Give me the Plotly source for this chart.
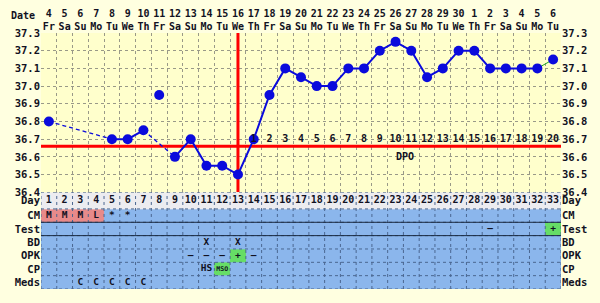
import plotly.graph_objects as go

# ---------------- data ----------------
days = list(range(1, 34))
dates = list(range(4, 31)) + [1, 2, 3, 4, 5, 6]
weekdays_cycle = ["Fr", "Sa", "Su", "Mo", "Tu", "We", "Th"]
weekdays = [weekdays_cycle[i % 7] for i in range(33)]

temps = [36.8, None, None, None, 36.7, 36.7, 36.75, None, 36.6, 36.7,
         36.55, 36.55, 36.5, 36.7, 36.95, 37.1, 37.05, 37.0, 37.0, 37.1,
         37.1, 37.2, 37.25, 37.2, 37.05, 37.1, 37.2, 37.2, 37.1, 37.1,
         37.1, 37.1, 37.15]
discarded_days = [8]
discarded_temps = [36.95]
pending_day = 33          # last point joined with green line

coverline = 36.66
ovulation_day = 13
dpo_numbers = list(range(1, 21))   # days 14..33
temp_ticks = [36.4, 36.5, 36.6, 36.7, 36.8, 36.9, 37.0, 37.1, 37.2, 37.3]

row_names = ["Meds", "CP", "OPK", "BD", "Test", "CM", "Day"]
cm = {1: "M", 2: "M", 3: "M", 4: "L", 5: "*", 6: "*"}
test = {29: "–", 33: "+"}
bd = {11: "X", 13: "X"}
opk = {10: "–", 11: "–", 12: "–", 13: "+", 14: "–"}
cp = {11: "HS", 12: "MSO"}
meds = {3: "C", 4: "C", 5: "C", 6: "C", 7: "C"}
pink_cells = {"CM": [1, 2, 3, 4]}
green_cells = {"Test": [33], "OPK": [13], "CP": [12]}

# ---------------- styling ----------------
FONT = "DejaVu Sans Mono"
BLUE = "#0A0ADC"
PAPER = "#FFFFE0"
PLOT = "#FFFFCC"
TABLE_BLUE = "#8BB6EC"
PINK = "#E88A8A"
GREEN = "#66DD66"
DAYROW = "#ECECF0"
TXT = "#111122"

# row geometry in table-axis units (Day row a bit taller)
row_edges = [0, 1, 2, 3, 4, 5, 6, 7.25]
row_centers = [(row_edges[i] + row_edges[i + 1]) / 2 for i in range(7)]
col_edges = [d - 0.5 for d in days] + [days[-1] + 0.5]

fig = go.Figure()

# ---------- table heatmap ----------
color_index = {"blue": 0, "pink": 1, "green": 2, "day": 3}
z = []
for r in row_names:
    row = []
    for d in days:
        if r == "Day":
            row.append(color_index["day"])
        elif d in pink_cells.get(r, []):
            row.append(color_index["pink"])
        elif d in green_cells.get(r, []):
            row.append(color_index["green"])
        else:
            row.append(color_index["blue"])
    z.append(row)
colorscale = [[0, TABLE_BLUE], [0.25, TABLE_BLUE], [0.25, PINK], [0.5, PINK],
              [0.5, GREEN], [0.75, GREEN], [0.75, DAYROW], [1, DAYROW]]
fig.add_trace(go.Heatmap(x=col_edges, y=row_edges, z=z, zmin=-0.5, zmax=3.5,
                         colorscale=colorscale, showscale=False, hoverinfo="skip",
                         xaxis="x", yaxis="y2"))

# table grid lines
gx, gy = [], []
for e in col_edges:
    gx += [e, e, None]
    gy += [row_edges[0], row_edges[-1], None]
fig.add_trace(go.Scatter(x=gx, y=gy, mode="lines", xaxis="x", yaxis="y2",
                         line=dict(color="#4A6690", width=1, dash="dot"),
                         hoverinfo="skip", showlegend=False))
hx, hy = [], []
for e in row_edges:
    hx += [col_edges[0], col_edges[-1], None]
    hy += [e, e, None]
fig.add_trace(go.Scatter(x=hx, y=hy, mode="lines", xaxis="x", yaxis="y2",
                         line=dict(color="#4A6690", width=1, dash="dot"),
                         hoverinfo="skip", showlegend=False))
ti = row_names.index("Test")
tx, ty = [], []
for e in (row_edges[ti], row_edges[ti + 1]):
    tx += [col_edges[0], col_edges[-1], None]
    ty += [e, e, None]
fig.add_trace(go.Scatter(x=tx, y=ty, mode="lines", xaxis="x", yaxis="y2",
                         line=dict(color="#1A2A40", width=1),
                         hoverinfo="skip", showlegend=False))

# table text
cell_data = {"CM": cm, "Test": test, "BD": bd, "OPK": opk, "CP": cp, "Meds": meds}
txx, tyy, tt, ts = [], [], [], []
for r, dct in cell_data.items():
    yc = row_centers[row_names.index(r)]
    for d, s in dct.items():
        txx.append(d)
        tyy.append(yc)
        tt.append(s)
        ts.append(6.5 if len(s) > 2 else 9.5)
fig.add_trace(go.Scatter(x=txx, y=tyy, text=tt, mode="text", xaxis="x", yaxis="y2",
                         textfont=dict(family=FONT, size=ts, color=TXT, weight="bold"),
                         hoverinfo="skip", showlegend=False))
# day numbers
fig.add_trace(go.Scatter(x=days, y=[row_centers[row_names.index("Day")]] * len(days),
                         text=[str(d) for d in days], mode="text", xaxis="x", yaxis="y2",
                         textfont=dict(family=FONT, size=10, color=TXT, weight="bold"),
                         hoverinfo="skip", showlegend=False))

# ---------- temperature chart ----------
fig.add_trace(go.Scatter(x=[col_edges[0], col_edges[-1]], y=[coverline, coverline],
                         mode="lines", line=dict(color="#FF0000", width=3),
                         hoverinfo="skip", showlegend=False))
fig.add_trace(go.Scatter(x=[ovulation_day, ovulation_day], y=[temp_ticks[0], temp_ticks[-1]],
                         mode="lines", line=dict(color="#FF0000", width=3),
                         hoverinfo="skip", showlegend=False))

# dashed lines across gaps
valid = [(d, t) for d, t in zip(days, temps) if t is not None]
for (d0, t0), (d1, t1) in zip(valid[:-1], valid[1:]):
    if d1 - d0 > 1:
        fig.add_trace(go.Scatter(x=[d0, d1], y=[t0, t1], mode="lines",
                                 line=dict(color=BLUE, width=1.3, dash="4px,3px"),
                                 hoverinfo="skip", showlegend=False))

# green line to pending day
pi = days.index(pending_day)
fig.add_trace(go.Scatter(x=[days[pi - 1], days[pi]], y=[temps[pi - 1], temps[pi]],
                         mode="lines", line=dict(color="#22AA22", width=1),
                         hoverinfo="skip", showlegend=False))

# main solid line
main_t = [t if d != pending_day else None for d, t in zip(days, temps)]
fig.add_trace(go.Scatter(x=days, y=main_t, mode="lines+markers",
                         line=dict(color=BLUE, width=2),
                         marker=dict(color=BLUE, size=10),
                         connectgaps=False, hoverinfo="skip", showlegend=False))
fig.add_trace(go.Scatter(x=[pending_day], y=[temps[pi]], mode="markers",
                         marker=dict(color=BLUE, size=10), hoverinfo="skip", showlegend=False))
fig.add_trace(go.Scatter(x=discarded_days, y=discarded_temps, mode="markers",
                         marker=dict(color=BLUE, size=10), hoverinfo="skip", showlegend=False))

# DPO numbers
dpo_days = days[ovulation_day:]
fig.add_trace(go.Scatter(x=dpo_days, y=[36.7] * len(dpo_days),
                         text=[str(n) for n in dpo_numbers], mode="text",
                         textfont=dict(family=FONT, size=10, color=TXT, weight="bold"),
                         hoverinfo="skip", showlegend=False))

# dummy traces for the right axes
fig.add_trace(go.Scatter(x=[days[0]], y=[temp_ticks[0]], mode="markers", opacity=0,
                         xaxis="x", yaxis="y3", hoverinfo="skip", showlegend=False))
fig.add_trace(go.Scatter(x=[days[0]], y=[row_centers[0]], mode="markers", opacity=0,
                         xaxis="x", yaxis="y4", hoverinfo="skip", showlegend=False))

fig.add_annotation(text="Date", xref="paper", yref="paper", x=-0.007, y=1.07,
                   xanchor="right", yanchor="middle", showarrow=False,
                   font=dict(family=FONT, size=10, color=TXT, weight="bold"))
fig.add_annotation(text="DPO", xref="x", yref="y", x=22.9, y=36.645,
                   xanchor="left", yanchor="top", showarrow=False,
                   font=dict(family=FONT, size=10, color=TXT, weight="bold"))

tick_font = dict(family=FONT, size=10.5, color=TXT, weight="bold")
date_font = dict(family=FONT, size=10, color=TXT, weight="bold")
split = 99 / 262
yr = [temp_ticks[0], temp_ticks[-1]]
fig.update_layout(
    width=600, height=303,
    margin=dict(l=41, r=39, t=33, b=8),
    paper_bgcolor=PAPER, plot_bgcolor=PLOT,
    showlegend=False,
    xaxis=dict(range=[col_edges[0], col_edges[-1]], anchor="y", side="top",
               tickmode="array", tickvals=days,
               ticktext=[f"{a}<br>{b}" for a, b in zip(dates, weekdays)],
               tickfont=date_font, ticks="", showgrid=False, zeroline=False,
               showline=False,
               minor=dict(tickmode="array", tickvals=col_edges, showgrid=True,
                          gridcolor="#999988", griddash="dot", gridwidth=1, ticks="")),
    yaxis=dict(domain=[split, 1], range=yr, tickvals=temp_ticks,
               ticktext=[f"{v:.1f}" for v in temp_ticks], tickfont=tick_font,
               showgrid=True, gridcolor="#999988", griddash="dot", gridwidth=1,
               zeroline=False, ticks="", anchor="x"),
    yaxis2=dict(domain=[0, split], range=[row_edges[0], row_edges[-1]],
                tickvals=row_centers, ticktext=row_names, tickfont=tick_font,
                showgrid=False, zeroline=False, ticks="", anchor="x"),
    yaxis3=dict(overlaying="y", side="right", range=yr, tickvals=temp_ticks,
                ticktext=[f"{v:.1f}" for v in temp_ticks], tickfont=tick_font,
                showgrid=False, zeroline=False, ticks="", anchor="x"),
    yaxis4=dict(overlaying="y2", side="right", range=[row_edges[0], row_edges[-1]],
                tickvals=row_centers, ticktext=row_names, tickfont=tick_font,
                showgrid=False, zeroline=False, ticks="", anchor="x"),
)

fig.write_html("out.html")
